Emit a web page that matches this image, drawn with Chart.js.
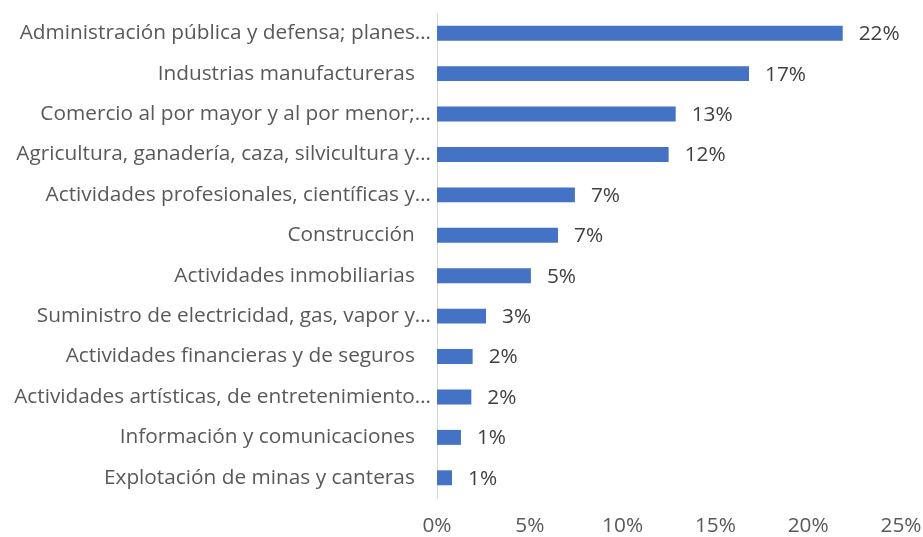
<!DOCTYPE html>
<html>
<head>
<meta charset="utf-8">
<script src="https://cdn.jsdelivr.net/npm/chart.js@4/dist/chart.umd.min.js"></script>
<style>
  html, body { margin: 0; padding: 0; background: #ffffff; }
  #wrap { width: 923px; height: 537px; position: relative; }
</style>
</head>
<body>
<div id="wrap"><canvas id="c" width="923" height="537"></canvas></div>
<script>
const categories = [
  "Administración pública y defensa; planes…",
  "Industrias manufactureras   ",
  "Comercio al por mayor y al por menor;…",
  "Agricultura, ganadería, caza, silvicultura y…",
  "Actividades profesionales, científicas y…",
  "Construcción   ",
  "Actividades inmobiliarias   ",
  "Suministro de electricidad, gas, vapor y…",
  "Actividades financieras y de seguros   ",
  "Actividades artísticas, de entretenimiento…",
  "Información y comunicaciones   ",
  "Explotación de minas y canteras   "
];
const shares = [21.86, 16.81, 12.86, 12.48, 7.43, 6.52, 5.06, 2.64, 1.92, 1.85, 1.29, 0.81];
const xTicks = [0, 5, 10, 15, 20, 25];

const FONT = "'Open Sans', 'Liberation Sans', sans-serif";

const valueLabels = {
  id: 'valueLabels',
  afterDatasetsDraw(chart) {
    const ctx = chart.ctx;
    const meta = chart.getDatasetMeta(0);
    ctx.save();
    ctx.font = "20.8px " + FONT;
    ctx.fillStyle = '#404040';
    ctx.textAlign = 'left';
    ctx.textBaseline = 'middle';
    meta.data.forEach((el, i) => {
      const v = chart.data.datasets[0].data[i];
      ctx.fillText(Math.round(v) + '%', el.x + 16, el.y + 1);
    });
    ctx.restore();
  }
};

new Chart(document.getElementById('c'), {
  type: 'bar',
  data: {
    labels: categories,
    datasets: [{
      data: shares,
      backgroundColor: '#4472C4',
      borderWidth: 0,
      barPercentage: 0.37,
      categoryPercentage: 1.0
    }]
  },
  options: {
    indexAxis: 'y',
    responsive: false,
    animation: false,
    devicePixelRatio: 1,
    layout: { padding: { top: 13, right: 0, bottom: 0, left: 0 } },
    plugins: { legend: { display: false }, tooltip: { enabled: false } },
    scales: {
      x: {
        min: 0, max: 25,
        afterBuildTicks(scale) { scale.ticks = xTicks.map(v => ({ value: v })); },
        afterFit(scale) {
          scale.height = 39;
          scale.paddingLeft = 0;
          scale.paddingRight = 22;
        },
        grid: { display: false, drawTicks: false },
        border: { display: false },
        ticks: {
          padding: 16,
          color: '#595959',
          font: { family: FONT, size: 20.8 },
          callback: v => v + '%'
        }
      },
      y: {
        afterFit(scale) {
          scale.width = 437;
          scale.paddingTop = 0;
          scale.paddingBottom = 0;
        },
        grid: { display: false, drawTicks: false },
        border: { display: true, color: '#d9d9d9', width: 1 },
        ticks: {
          padding: 6,
          color: '#595959',
          font: { family: FONT, size: 20.8 },
          autoSkip: false
        }
      }
    }
  },
  plugins: [valueLabels]
});
</script>
</body>
</html>
